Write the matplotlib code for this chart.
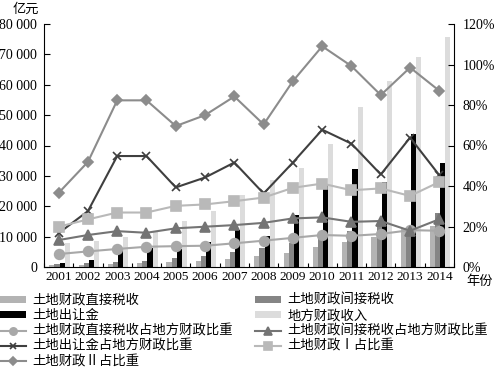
import matplotlib
matplotlib.use("Agg")
import matplotlib.pyplot as plt
import numpy as np
from matplotlib.ticker import FuncFormatter, FixedLocator

years = ['2001', '2002', '2003', '2004', '2005', '2006', '2007',
         '2008', '2009', '2010', '2011', '2012', '2013', '2014']
direct_tax = [500, 660, 880, 1190, 1560, 1920, 2760, 3730, 4700, 6420, 8090, 9960, 12560, 13580]
indirect_tax = [1040, 1350, 1740, 2010, 2880, 3640, 4880, 6250, 7830, 9950, 11720, 13870, 12350, 17910]
land_transfer = [1296, 2417, 5421, 6412, 5884, 8078, 12217, 10260, 17180, 27464, 32126, 28042, 43745, 34377]
local_rev = [7803, 8515, 9850, 11893, 15101, 18304, 23573, 28650, 32603, 40613, 52547, 61078, 69011, 75877]
pct_direct = [6.4, 7.7, 8.9, 10.0, 10.3, 10.5, 11.7, 13.0, 14.4, 15.8, 15.4, 16.3, 18.2, 17.9]
pct_indirect = [13.3, 15.8, 17.7, 16.9, 19.1, 19.9, 20.7, 21.8, 24.0, 24.5, 22.3, 22.7, 17.9, 23.6]
pct_transfer = [16.7, 27.6, 54.8, 54.8, 39.3, 44.2, 51.6, 36.3, 51.6, 67.8, 60.9, 45.7, 63.9, 45.3]
pct_I = [19.9, 23.5, 26.9, 26.9, 30.2, 30.9, 32.5, 34.3, 39.1, 41.2, 37.9, 38.8, 35.1, 42.0]
pct_II = [36.6, 51.9, 82.3, 82.3, 69.6, 75.0, 84.2, 70.4, 91.8, 109.0, 99.2, 84.9, 98.5, 87.0]

left_ticks = [0, 10000, 20000, 30000, 40000, 50000, 60000, 70000, 80000]
right_ticks = [0, 20, 40, 60, 80, 100, 120]

serif = 'Liberation Serif'
cjk = ['Noto Sans CJK SC', 'DejaVu Sans']

W, H = 494, 369
fig = plt.figure(figsize=(W / 100, H / 100), dpi=100)
ax = fig.add_axes([44 / W, 1 - 267 / H, 410 / W, 243 / H])
ax2 = ax.twinx()

x = np.arange(len(years))
bw = 0.175
bars = [
    (direct_tax, '#b3b3b3', '土地财政直接税收'),
    (indirect_tax, '#858585', '土地财政间接税收'),
    (land_transfer, '#000000', '土地出让金'),
    (local_rev, '#dcdcdc', '地方财政收入'),
]
bar_handles = []
for i, (vals, col, lab) in enumerate(bars):
    h = ax.bar(x + (i - 1.5) * bw + 0.03, vals, width=bw, color=col, label=lab, zorder=2)
    bar_handles.append(h)

lines_spec = [
    (pct_direct, '#a8a8a8', 'o', 7, '土地财政直接税收占地方财政比重'),
    (pct_indirect, '#747474', '^', 7, '土地财政间接税收占地方财政比重'),
    (pct_transfer, '#3f3f3f', 'x', 6, '土地出让金占地方财政比重'),
    (pct_I, '#b9b9b9', 's', 7, '土地财政Ⅰ占比重'),
    (pct_II, '#8c8c8c', 'D', 5, '土地财政Ⅱ占比重'),
]
line_handles = []
for vals, col, mk, ms, lab in lines_spec:
    ln, = ax2.plot(x, vals, color=col, marker=mk, markersize=ms, lw=1.5,
                   markeredgewidth=1.2, label=lab, zorder=3)
    line_handles.append(ln)

ax.set_xlim(-0.5, 13.5)
ax.set_ylim(0, 80000)
ax2.set_ylim(0, 120)
ax.set_yticks(left_ticks)
ax.yaxis.set_major_formatter(FuncFormatter(lambda v, p: '0' if v == 0 else f'{int(v):,}'.replace(',', ' ')))
ax2.set_yticks(right_ticks)
ax2.yaxis.set_major_formatter(FuncFormatter(lambda v, p: f'{int(v)}%'))

ax.set_xticks(x)
ax.set_xticklabels(years, fontfamily=serif, fontsize=9.6)
ax.xaxis.set_minor_locator(FixedLocator(np.arange(-0.5, 14, 1)))
ax.tick_params(axis='x', which='major', length=0, pad=3)
ax.tick_params(axis='x', which='minor', length=3, direction='in', width=0.8)
ax.tick_params(axis='y', direction='in', length=4, width=0.8, pad=5, labelsize=10)
ax2.tick_params(axis='y', direction='in', length=4, width=0.8, pad=6, labelsize=10)
for lab in ax.get_yticklabels() + ax2.get_yticklabels():
    lab.set_fontfamily(serif)

for a in (ax, ax2):
    a.spines['top'].set_visible(False)
    for s in a.spines.values():
        s.set_linewidth(0.8)
ax.spines['right'].set_visible(False)
ax2.spines['left'].set_visible(False)
ax2.spines['bottom'].set_visible(False)

fig.text(13 / W, 1 - 9 / H, '亿元', fontfamily=cjk, fontsize=9.5, va='center', ha='left')
fig.text(466 / W, 1 - 281 / H, '年份', fontfamily=cjk, fontsize=9.5, va='center', ha='left')

order = [bar_handles[0], bar_handles[2], line_handles[0], line_handles[2], line_handles[4],
         bar_handles[1], bar_handles[3], line_handles[1], line_handles[3]]
labels = [h.get_label() for h in order]
leg = fig.legend(order, labels, loc='upper left', bbox_to_anchor=(0.0, 1 - 293 / H),
                 ncol=2, frameon=False, prop={'family': cjk, 'size': 9.6},
                 handlelength=1.95, handletextpad=0.5, columnspacing=1.6, handleheight=0.45,
                 labelspacing=0.1, borderpad=0, borderaxespad=0, markerscale=0.75)

fig.savefig('out.png', dpi=100)
